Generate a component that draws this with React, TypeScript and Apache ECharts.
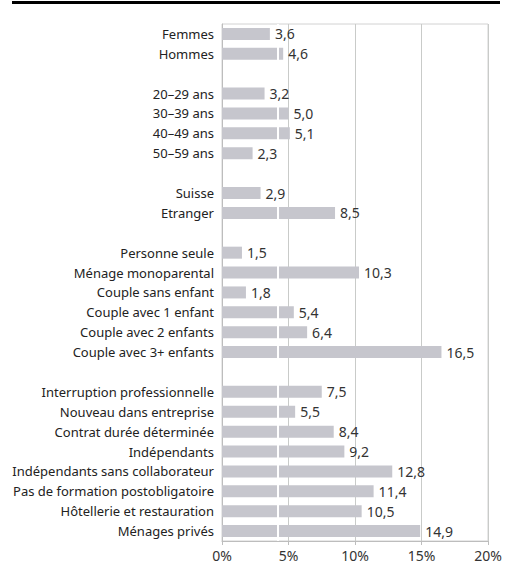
import React, { useEffect, useRef } from "react";
import * as echarts from "echarts";

const categories = [
  "Femmes", "Hommes", "",
  "20–29 ans", "30–39 ans", "40–49 ans", "50–59 ans", " ",
  "Suisse", "Etranger", "  ",
  "Personne seule", "Ménage monoparental", "Couple sans enfant", "Couple avec 1 enfant", "Couple avec 2 enfants", "Couple avec 3+ enfants", "   ",
  "Interruption professionnelle", "Nouveau dans entreprise", "Contrat durée déterminée", "Indépendants", "Indépendants sans collaborateur", "Pas de formation postobligatoire", "Hôtellerie et restauration", "Ménages privés",
];

const values: (number | null)[] = [
  3.6, 4.6, null,
  3.2, 5.0, 5.1, 2.3, null,
  2.9, 8.5, null,
  1.5, 10.3, 1.8, 5.4, 6.4, 16.5, null,
  7.5, 5.5, 8.4, 9.2, 12.8, 11.4, 10.5, 14.9,
];

const xTicks = [0, 5, 10, 15, 20];

export default function App() {
  const ref = useRef<HTMLDivElement>(null);
  useEffect(() => {
    if (!ref.current) return;
    const chart = echarts.init(ref.current, null, { renderer: "svg" });
    const font = "'Noto Sans', sans-serif";
    chart.setOption({
      animation: false,
      backgroundColor: "#ffffff",
      textStyle: { fontFamily: font },
      graphic: [
        { type: "rect", shape: { x: 12, y: 1, width: 488, height: 3 }, style: { fill: "#000" } },
      ],
      grid: { left: 222, right: 17, top: 24, bottom: 26, show: true, borderColor: "#d2d2d2", borderWidth: 1 },
      xAxis: {
        type: "value",
        min: xTicks[0],
        max: xTicks[xTicks.length - 1],
        interval: 5,
        axisLine: { show: true, lineStyle: { color: "#bdbdbd", width: 1 } },
        axisTick: { show: true, length: 4, lineStyle: { color: "#bdbdbd" } },
        splitLine: { show: true, lineStyle: { color: "#c9cbc9", width: 1 } },
        axisLabel: { formatter: (v: number) => v + "%", color: "#333", fontSize: 14, margin: 7, fontFamily: font },
      },
      yAxis: {
        type: "category",
        data: categories,
        inverse: true,
        axisLine: { show: true, lineStyle: { color: "#bdbdbd" } },
        axisTick: { show: false },
        axisLabel: { color: "#222", fontSize: 13, margin: 8, fontFamily: font },
      },
      series: [
        {
          type: "bar",
          data: values,
          barWidth: 12,
          z: 2,
          itemStyle: { color: "#c6c6cd" },
          markLine: {
            silent: true,
            symbol: "none",
            label: { show: false },
            lineStyle: { color: "#ffffff", width: 2, type: "solid" },
            data: [{ xAxis: 4.2 }],
          },
        },
        {
          type: "bar",
          data: values,
          barWidth: 12,
          barGap: "-100%",
          z: 10,
          silent: true,
          itemStyle: { color: "rgba(0,0,0,0)" },
          label: {
            show: true,
            position: "right",
            distance: 5,
            color: "#333",
            fontSize: 14,
            fontFamily: font,
            formatter: (p: any) => (p.value == null ? "" : Number(p.value).toFixed(1).replace(".", ",")),
          },
        },
      ],
    });
    return () => chart.dispose();
  }, []);
  return <div ref={ref} style={{ width: 505, height: 567, position: "absolute", left: 0, top: 0 }} />;
}
